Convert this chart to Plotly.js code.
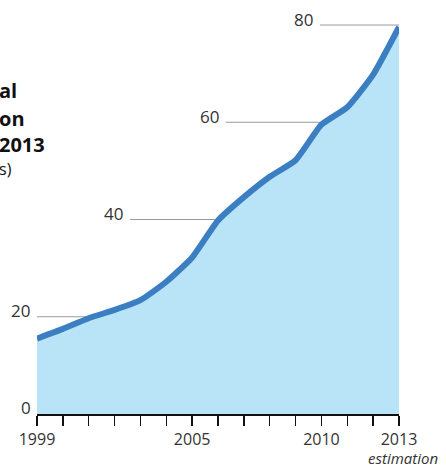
<!DOCTYPE html>
<html>
<head>
<meta charset="utf-8">
<script src="https://cdn.plot.ly/plotly-3.0.1.min.js"></script>
<style>html,body{margin:0;padding:0;background:#fff;}#chart{width:446px;height:469px;}</style>
</head>
<body>
<div id="chart"></div>
<script>
// Data
const years = [1999,2000,2001,2002,2003,2004,2005,2006,2007,2008,2009,2010,2011,2012,2013];
const values = [15.5,17.5,19.7,21.4,23.4,27.2,32.2,39.8,44.6,48.8,52.2,59.5,63.1,69.8,79.6];
const tickLabels = ['1999','','','','','','2005','','','','','2010','','','2013'];
const gridValues = [20,40,60,80];
const gridStartYears = [1999,2002.6,2006.3,2009.94];
const titleLines = ['al','on','2013'];
const titleUnit = 's)';
const noteText = 'estimation';

function crossYear(v){
  for(let i=1;i<values.length;i++){
    if(values[i-1] <= v && values[i] >= v){
      return years[i-1] + (v-values[i-1])/(values[i]-values[i-1])*(years[i]-years[i-1]);
    }
  }
  return years[years.length-1];
}

const trace = {
  x: years, y: values, type:'scatter', mode:'lines',
  fill:'tozeroy', fillcolor:'#b9e3f7',
  line:{color:'#3b7fc2', width:6, shape:'spline', smoothing:0.5},
  hoverinfo:'skip'
};

const shapes = gridValues.map((v,i)=>({
  type:'line', xref:'x', yref:'y', x0:gridStartYears[i], x1:crossYear(v), y0:v, y1:v,
  line:{color:'#9a9a9a', width:1}, layer:'below'
}));

const font = '"Open Sans", Lato, sans-serif';
const leftM = 37, plotW = 362, plotH = 399, baseY = 414;
const annotations = [];
annotations.push({xref:'x', yref:'y', x:1999, y:0, text:'0', showarrow:false,
  xanchor:'right', yanchor:'middle', xshift:-4, yshift:7, font:{family:font,size:17,color:'#333'}});
gridValues.forEach((v,i)=>{
  annotations.push({xref:'x', yref:'y', x:gridStartYears[i], y:v, text:String(v), showarrow:false,
    xanchor:'right', yanchor:'middle', xshift:-5, yshift:6, font:{family:font,size:17,color:'#333'}});
});
const titleY = [90,118,144];
titleLines.forEach((t,i)=>{
  annotations.push({xref:'paper', yref:'paper', x:-leftM/plotW, y:(baseY-titleY[i])/plotH,
    text:'<b>'+t+'</b>', showarrow:false, xanchor:'left', yanchor:'middle', xshift:-3,
    font:{family:font,size:20,color:'#111'}});
});
annotations.push({xref:'paper', yref:'paper', x:-leftM/plotW, y:(baseY-169)/plotH, text:titleUnit, showarrow:false,
  xanchor:'left', yanchor:'middle', xshift:-3, font:{family:font,size:16,color:'#111'}});
annotations.push({xref:'paper', yref:'paper', x:1, y:0, text:'<i>'+noteText+'</i>', showarrow:false,
  xanchor:'right', yanchor:'bottom', xshift:40, yshift:-55, borderpad:0,
  font:{family:font,size:15,color:'#333'}});

const layout = {
  width:446, height:469,
  margin:{l:37, r:47, t:15, b:55},
  paper_bgcolor:'#fff', plot_bgcolor:'rgba(0,0,0,0)',
  showlegend:false,
  xaxis:{range:[1999,2013], tickvals:years, ticktext:tickLabels, ticks:'outside', ticklen:10,
    tickwidth:1.5, tickcolor:'#111', showline:true, linecolor:'#111', linewidth:1.5,
    showgrid:false, zeroline:false, fixedrange:true,
    tickfont:{family:font, size:16, color:'#333'}},
  yaxis:{range:[0,82.06], visible:false, showgrid:false, zeroline:false, fixedrange:true},
  shapes:shapes,
  annotations:annotations
};

Plotly.newPlot('chart',[trace],layout,{displayModeBar:false, staticPlot:true});
</script>
</body>
</html>
